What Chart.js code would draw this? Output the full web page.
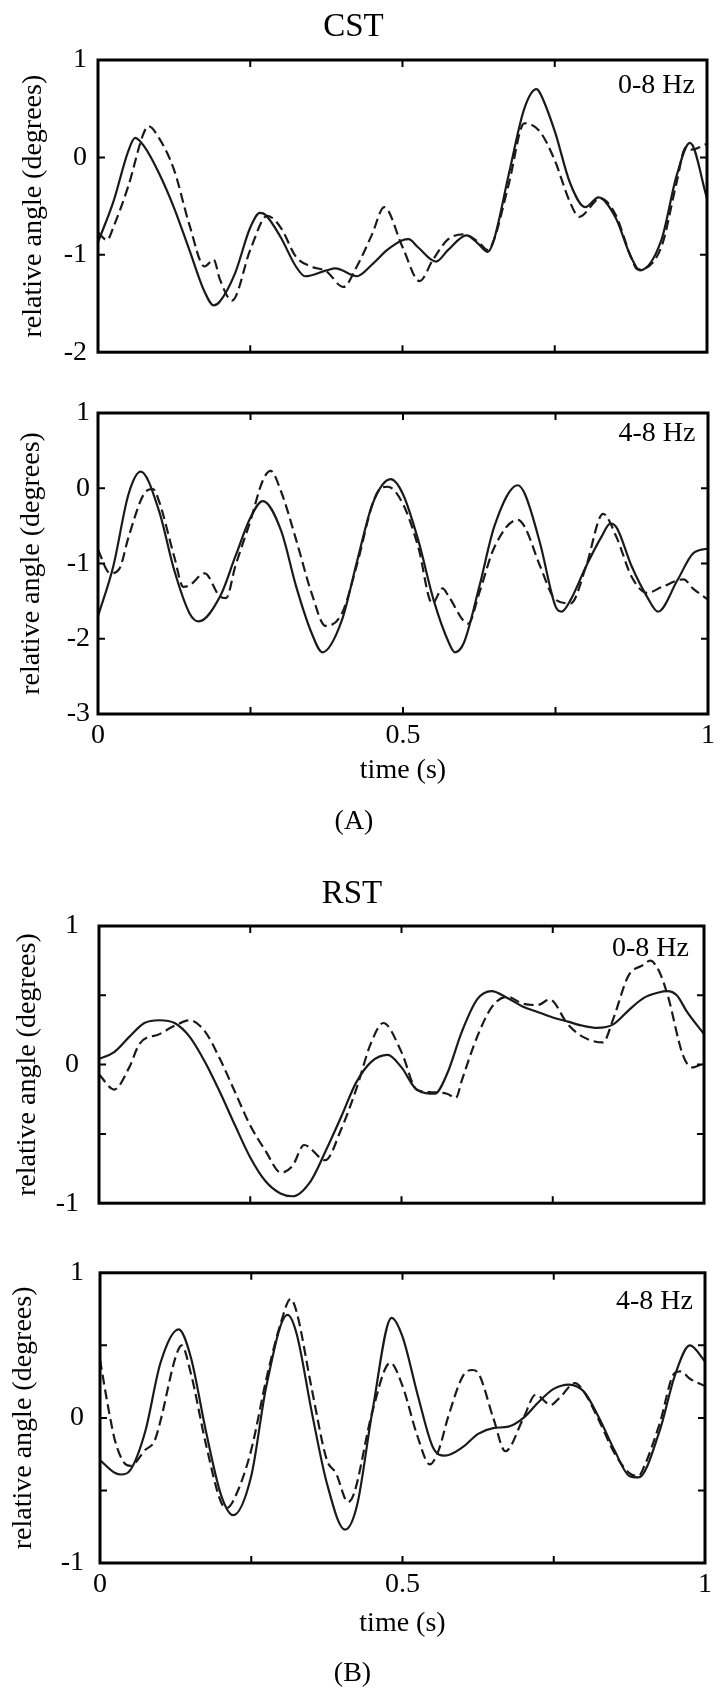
<!DOCTYPE html>
<html lang="en">
<head>
<meta charset="UTF-8">
<title>CST / RST relative angle</title>
<script src="https://cdn.jsdelivr.net/npm/chart.js"></script>
<style>
  html, body { margin: 0; padding: 0; background: #fff; }
  body { width: 727px; height: 1695px; position: relative; overflow: hidden; }
  canvas { position: absolute; left: 0; }
</style>
</head>
<body>
<canvas id="cstFull" width="727" height="380" style="top:0px"></canvas>
<canvas id="cstTheta" width="727" height="460" style="top:380px"></canvas>
<canvas id="rstFull" width="727" height="400" style="top:840px"></canvas>
<canvas id="rstTheta" width="727" height="455" style="top:1240px"></canvas>
<script>
// ---- data (time in s, relative angle in degrees) ----
// CST, 0-8 Hz
var cstFullSolidT = [0, 0.025, 0.05, 0.061, 0.075, 0.1, 0.125, 0.15, 0.175, 0.19, 0.2, 0.225, 0.25, 0.266, 0.275, 0.3, 0.325, 0.34, 0.375, 0.39, 0.425, 0.45, 0.475, 0.5, 0.51, 0.525, 0.555, 0.575, 0.605, 0.625, 0.64, 0.65, 0.675, 0.7, 0.72, 0.725, 0.75, 0.775, 0.8, 0.822, 0.85, 0.875, 0.89, 0.925, 0.95, 0.972, 1.0];
var cstFullSolid = [-0.87, -0.46, 0.07, 0.2, 0.12, -0.16, -0.52, -0.95, -1.38, -1.52, -1.48, -1.19, -0.72, -0.57, -0.59, -0.82, -1.12, -1.22, -1.16, -1.14, -1.22, -1.10, -0.95, -0.85, -0.84, -0.92, -1.07, -0.95, -0.80, -0.89, -0.97, -0.85, -0.16, 0.50, 0.70, 0.67, 0.27, -0.26, -0.51, -0.41, -0.62, -1.02, -1.16, -0.85, -0.19, 0.15, -0.42];
var cstFullDashT = [0, 0.015, 0.025, 0.05, 0.075, 0.083, 0.1, 0.125, 0.15, 0.175, 0.19, 0.2, 0.22, 0.25, 0.278, 0.3, 0.325, 0.35, 0.375, 0.403, 0.425, 0.45, 0.47, 0.5, 0.528, 0.55, 0.575, 0.6, 0.625, 0.64, 0.65, 0.675, 0.7, 0.725, 0.75, 0.775, 0.79, 0.825, 0.85, 0.875, 0.886, 0.925, 0.95, 0.965, 0.975, 1.0];
var cstFullDash = [-0.77, -0.85, -0.72, -0.29, 0.25, 0.32, 0.2, -0.13, -0.69, -1.12, -1.05, -1.25, -1.47, -0.95, -0.60, -0.72, -1.02, -1.12, -1.17, -1.33, -1.12, -0.79, -0.51, -0.92, -1.27, -1.05, -0.84, -0.79, -0.87, -0.95, -0.85, -0.26, 0.35, 0.27, -0.03, -0.46, -0.61, -0.42, -0.59, -1.02, -1.15, -0.92, -0.26, 0.10, 0.08, 0.14];
// CST, 4-8 Hz
var cstThetaSolidT = [0, 0.025, 0.05, 0.07, 0.1, 0.125, 0.15, 0.165, 0.2, 0.225, 0.25, 0.27, 0.3, 0.325, 0.35, 0.368, 0.4, 0.425, 0.45, 0.48, 0.5, 0.525, 0.55, 0.575, 0.585, 0.6, 0.625, 0.65, 0.688, 0.7, 0.725, 0.75, 0.76, 0.775, 0.8, 0.825, 0.84, 0.85, 0.875, 0.9, 0.918, 0.95, 0.975, 1.0];
var cstThetaSolid = [-1.70, -1.04, -0.08, 0.22, -0.30, -1.09, -1.66, -1.77, -1.44, -0.91, -0.39, -0.17, -0.56, -1.31, -1.92, -2.18, -1.75, -0.96, -0.21, 0.12, -0.08, -0.69, -1.48, -2.05, -2.18, -2.05, -1.31, -0.50, 0.04, -0.08, -0.74, -1.57, -1.64, -1.48, -1.04, -0.65, -0.47, -0.52, -1.04, -1.44, -1.64, -1.22, -0.87, -0.80];
var cstThetaDashT = [0, 0.02, 0.035, 0.05, 0.075, 0.09, 0.1, 0.125, 0.14, 0.15, 0.175, 0.2, 0.21, 0.225, 0.25, 0.27, 0.283, 0.3, 0.325, 0.35, 0.373, 0.4, 0.425, 0.45, 0.465, 0.475, 0.5, 0.525, 0.548, 0.565, 0.575, 0.607, 0.625, 0.65, 0.688, 0.7, 0.725, 0.75, 0.775, 0.8, 0.828, 0.85, 0.875, 0.9, 0.925, 0.96, 0.975, 1.0];
var cstThetaDash = [-0.82, -1.13, -1.07, -0.65, -0.08, -0.01, -0.17, -0.91, -1.31, -1.29, -1.13, -1.44, -1.46, -1.04, -0.43, 0.10, 0.23, -0.04, -0.69, -1.39, -1.83, -1.66, -1.0, -0.21, 0.01, 0.02, -0.21, -0.78, -1.53, -1.33, -1.44, -1.80, -1.39, -0.78, -0.42, -0.52, -1.04, -1.48, -1.53, -1.04, -0.34, -0.65, -1.18, -1.39, -1.31, -1.21, -1.33, -1.48];
// RST, 0-8 Hz
var rstFullSolidT = [0, 0.025, 0.05, 0.075, 0.1, 0.125, 0.15, 0.175, 0.2, 0.225, 0.25, 0.275, 0.3, 0.32, 0.35, 0.375, 0.4, 0.425, 0.45, 0.477, 0.5, 0.525, 0.555, 0.575, 0.6, 0.625, 0.649, 0.675, 0.7, 0.725, 0.75, 0.775, 0.8, 0.823, 0.85, 0.875, 0.9, 0.925, 0.939, 0.955, 0.972, 1.0];
var rstFullSolid = [0.04, 0.09, 0.20, 0.30, 0.32, 0.30, 0.20, 0.02, -0.20, -0.44, -0.67, -0.84, -0.93, -0.95, -0.84, -0.62, -0.38, -0.13, 0.02, 0.07, -0.02, -0.18, -0.21, -0.07, 0.24, 0.47, 0.53, 0.48, 0.42, 0.38, 0.34, 0.31, 0.28, 0.265, 0.29, 0.39, 0.48, 0.52, 0.53, 0.50, 0.38, 0.22];
var rstFullDashT = [0, 0.025, 0.05, 0.067, 0.1, 0.125, 0.15, 0.175, 0.2, 0.225, 0.25, 0.275, 0.301, 0.32, 0.339, 0.374, 0.4, 0.425, 0.45, 0.47, 0.5, 0.525, 0.55, 0.575, 0.59, 0.6, 0.625, 0.65, 0.675, 0.7, 0.725, 0.745, 0.775, 0.8, 0.833, 0.85, 0.875, 0.9, 0.911, 0.925, 0.94, 0.965, 0.98, 1.0];
var rstFullDash = [-0.07, -0.18, -0.02, 0.15, 0.22, 0.28, 0.32, 0.24, 0.04, -0.20, -0.44, -0.62, -0.78, -0.73, -0.58, -0.69, -0.47, -0.18, 0.16, 0.30, 0.09, -0.18, -0.20, -0.21, -0.24, -0.11, 0.20, 0.42, 0.49, 0.44, 0.43, 0.47, 0.29, 0.20, 0.16, 0.33, 0.64, 0.72, 0.75, 0.68, 0.50, 0.07, -0.02, 0.01];
// RST, 4-8 Hz
var rstThetaSolidT = [0, 0.025, 0.035, 0.05, 0.075, 0.1, 0.13, 0.15, 0.175, 0.2, 0.22, 0.25, 0.275, 0.31, 0.325, 0.35, 0.375, 0.405, 0.425, 0.45, 0.482, 0.5, 0.525, 0.55, 0.57, 0.6, 0.625, 0.65, 0.675, 0.7, 0.725, 0.75, 0.775, 0.8, 0.825, 0.85, 0.875, 0.89, 0.925, 0.95, 0.975, 1.0];
var rstThetaSolid = [-0.29, -0.38, -0.39, -0.36, -0.09, 0.38, 0.61, 0.42, -0.09, -0.53, -0.67, -0.40, 0.22, 0.71, 0.58, 0.04, -0.45, -0.77, -0.60, 0.04, 0.69, 0.56, 0.16, -0.20, -0.26, -0.20, -0.11, -0.07, -0.06, 0.0, 0.11, 0.20, 0.23, 0.18, 0.0, -0.22, -0.40, -0.41, -0.09, 0.29, 0.50, 0.39];
var rstThetaDashT = [0, 0.015, 0.025, 0.04, 0.05, 0.075, 0.09, 0.1, 0.125, 0.135, 0.15, 0.175, 0.2, 0.21, 0.225, 0.25, 0.275, 0.3, 0.315, 0.325, 0.35, 0.375, 0.39, 0.41, 0.42, 0.45, 0.48, 0.5, 0.525, 0.545, 0.56, 0.575, 0.6, 0.615, 0.625, 0.65, 0.67, 0.7, 0.72, 0.745, 0.76, 0.785, 0.8, 0.825, 0.85, 0.875, 0.89, 0.9, 0.925, 0.95, 0.96, 0.975, 1.0];
var rstThetaDash = [0.40, 0.04, -0.16, -0.31, -0.33, -0.22, -0.16, -0.02, 0.42, 0.50, 0.31, -0.18, -0.58, -0.62, -0.53, -0.22, 0.27, 0.67, 0.82, 0.73, 0.20, -0.29, -0.38, -0.58, -0.52, 0.04, 0.38, 0.22, -0.13, -0.32, -0.22, 0.0, 0.29, 0.33, 0.31, 0.0, -0.23, 0.0, 0.16, 0.09, 0.14, 0.24, 0.18, -0.02, -0.24, -0.38, -0.40, -0.33, -0.04, 0.31, 0.32, 0.27, 0.22];

// tick labels
var xTickLabels = [0, 0.5, 1];
var yLabelsCstFull = [1, 0, -1, -2];
var yLabelsCstTheta = [1, 0, -1, -2, -3];
var yLabelsRst = [1, 0, -1];

var serif = '"Liberation Serif", "Times New Roman", serif';
Chart.defaults.font.family = serif;
Chart.defaults.color = '#000';

function pts(ts, vs) {
  return ts.map(function (t, i) { return {x: t, y: vs[i]}; });
}

// MATLAB style box: heavy frame, inward ticks on all four sides, band label
var boxPlugin = {
  id: 'matlabBox',
  afterDatasetsDraw: function (chart, args, opts) {
    var ctx = chart.ctx, a = chart.chartArea;
    var xs = chart.scales.x, ys = chart.scales.y;
    ctx.save();
    ctx.strokeStyle = '#000';
    ctx.lineWidth = 3;
    ctx.strokeRect(a.left, a.top, a.right - a.left, a.bottom - a.top);
    ctx.lineWidth = 2;
    ctx.beginPath();
    xs.ticks.forEach(function (t) {
      var px = xs.getPixelForValue(t.value);
      if (px - a.left < 3 || a.right - px < 3) return;
      ctx.moveTo(px, a.top); ctx.lineTo(px, a.top + 7);
      ctx.moveTo(px, a.bottom); ctx.lineTo(px, a.bottom - 7);
    });
    ys.ticks.forEach(function (t) {
      var py = ys.getPixelForValue(t.value);
      if (py - a.top < 3 || a.bottom - py < 3) return;
      ctx.moveTo(a.left, py); ctx.lineTo(a.left + 7, py);
      ctx.moveTo(a.right, py); ctx.lineTo(a.right - 7, py);
    });
    ctx.stroke();
    ctx.fillStyle = '#000';
    ctx.font = '28px ' + serif;
    ctx.textAlign = 'right';
    ctx.textBaseline = 'middle';
    ctx.fillText(opts.text, a.right - opts.dx, a.top + opts.dy);
    ctx.restore();
  }
};

function makePanel(id, p) {
  var yShown = p.yLabels;
  return new Chart(document.getElementById(id), {
    type: 'line',
    data: {
      datasets: [
        { data: pts(p.solidT, p.solid), borderColor: '#1a1a1a', borderWidth: 2.2,
          pointRadius: 0, cubicInterpolationMode: 'monotone', fill: false },
        { data: pts(p.dashT, p.dash), borderColor: '#1a1a1a', borderWidth: 2.2, borderDash: [10, 5],
          pointRadius: 0, cubicInterpolationMode: 'monotone', fill: false }
      ]
    },
    options: {
      responsive: false,
      animation: false,
      events: [],
      layout: { autoPadding: false, padding: p.padding },
      scales: {
        x: {
          type: 'linear', min: 0, max: 1,
          grid: { display: false, drawTicks: false },
          border: { display: false },
          ticks: {
            display: p.showX, stepSize: 0.25, autoSkip: false, maxRotation: 0,
            padding: p.xTickPad, font: { size: 28 },
            callback: function (v) { return xTickLabels.indexOf(v) >= 0 ? String(v) : ''; }
          },
          title: { display: p.showX, text: 'time (s)', font: { size: 28 },
                   padding: { top: 0, bottom: p.xTitlePad } },
          afterFit: function (s) { s.height = p.xHeight; }
        },
        y: {
          type: 'linear', min: p.yMin, max: p.yMax,
          grid: { display: false, drawTicks: false },
          border: { display: false },
          ticks: {
            stepSize: p.yStep, autoSkip: false, padding: p.yTickPad, font: { size: 28 },
            callback: function (v) { return yShown.indexOf(v) >= 0 ? String(v) : ''; }
          },
          title: { display: true, text: 'relative angle (degrees)', font: { size: 28 },
                   padding: { top: p.yTitlePad, bottom: 0 } },
          afterFit: function (s) { s.width = p.yWidth; }
        }
      },
      plugins: {
        legend: { display: false },
        tooltip: { enabled: false },
        title: {
          display: true, text: p.title, position: p.titlePos, color: '#000',
          font: { size: p.titleSize, weight: 'normal' },
          padding: p.titlePad
        },
        matlabBox: { text: p.band, dx: p.bandDx, dy: p.bandDy }
      }
    },
    plugins: [boxPlugin]
  });
}

makePanel('cstFull', {
  solidT: cstFullSolidT, solid: cstFullSolid, dashT: cstFullDashT, dash: cstFullDash,
  yMin: -2, yMax: 1, yStep: 1, yLabels: yLabelsCstFull,
  title: 'CST', titlePos: 'top', titleSize: 33, titlePad: { top: 7.2, bottom: 13.2 },
  padding: { left: 0, right: 20, top: 0, bottom: 0 },
  showX: false, xHeight: 18, xTickPad: 0, xTitlePad: 0,
  yWidth: 98, yTickPad: 11, yTitlePad: 17.2,
  band: '0-8 Hz', bandDx: 12, bandDy: 25.5
});

makePanel('cstTheta', {
  solidT: cstThetaSolidT, solid: cstThetaSolid, dashT: cstThetaDashT, dash: cstThetaDash,
  yMin: -3, yMax: 1, yStep: 1, yLabels: yLabelsCstTheta,
  title: '(A)', titlePos: 'bottom', titleSize: 28, titlePad: { top: 0, bottom: 1.2 },
  padding: { left: 0, right: 19, top: 33, bottom: 0 },
  showX: true, xHeight: 91.2, xTickPad: 5.2, xTitlePad: 17.4,
  yWidth: 98, yTickPad: 8, yTitlePad: 15.2,
  band: '4-8 Hz', bandDx: 12.5, bandDy: 21
});

makePanel('rstFull', {
  solidT: rstFullSolidT, solid: rstFullSolid, dashT: rstFullDashT, dash: rstFullDash,
  yMin: -1, yMax: 1, yStep: 0.5, yLabels: yLabelsRst,
  title: 'RST', titlePos: 'top', titleSize: 33, titlePad: { top: 34.2, bottom: 12.2 },
  padding: { left: 0, right: 23, top: 0, bottom: 0 },
  showX: false, xHeight: 14, xTickPad: 0, xTitlePad: 0,
  yWidth: 99, yTickPad: 20, yTitlePad: 11.2,
  band: '0-8 Hz', bandDx: 15, bandDy: 22.5
});

makePanel('rstTheta', {
  solidT: rstThetaSolidT, solid: rstThetaSolid, dashT: rstThetaDashT, dash: rstThetaDash,
  yMin: -1, yMax: 1, yStep: 0.5, yLabels: yLabelsRst,
  title: '(B)', titlePos: 'bottom', titleSize: 28, titlePad: { top: 0, bottom: 4.2 },
  padding: { left: 0, right: 22, top: 23, bottom: 0 },
  showX: true, xHeight: 94.2, xTickPad: 5.2, xTitlePad: 16.4,
  yWidth: 100, yTickPad: 16, yTitlePad: 7.2,
  band: '4-8 Hz', bandDx: 12, bandDy: 29
});
</script>
</body>
</html>
